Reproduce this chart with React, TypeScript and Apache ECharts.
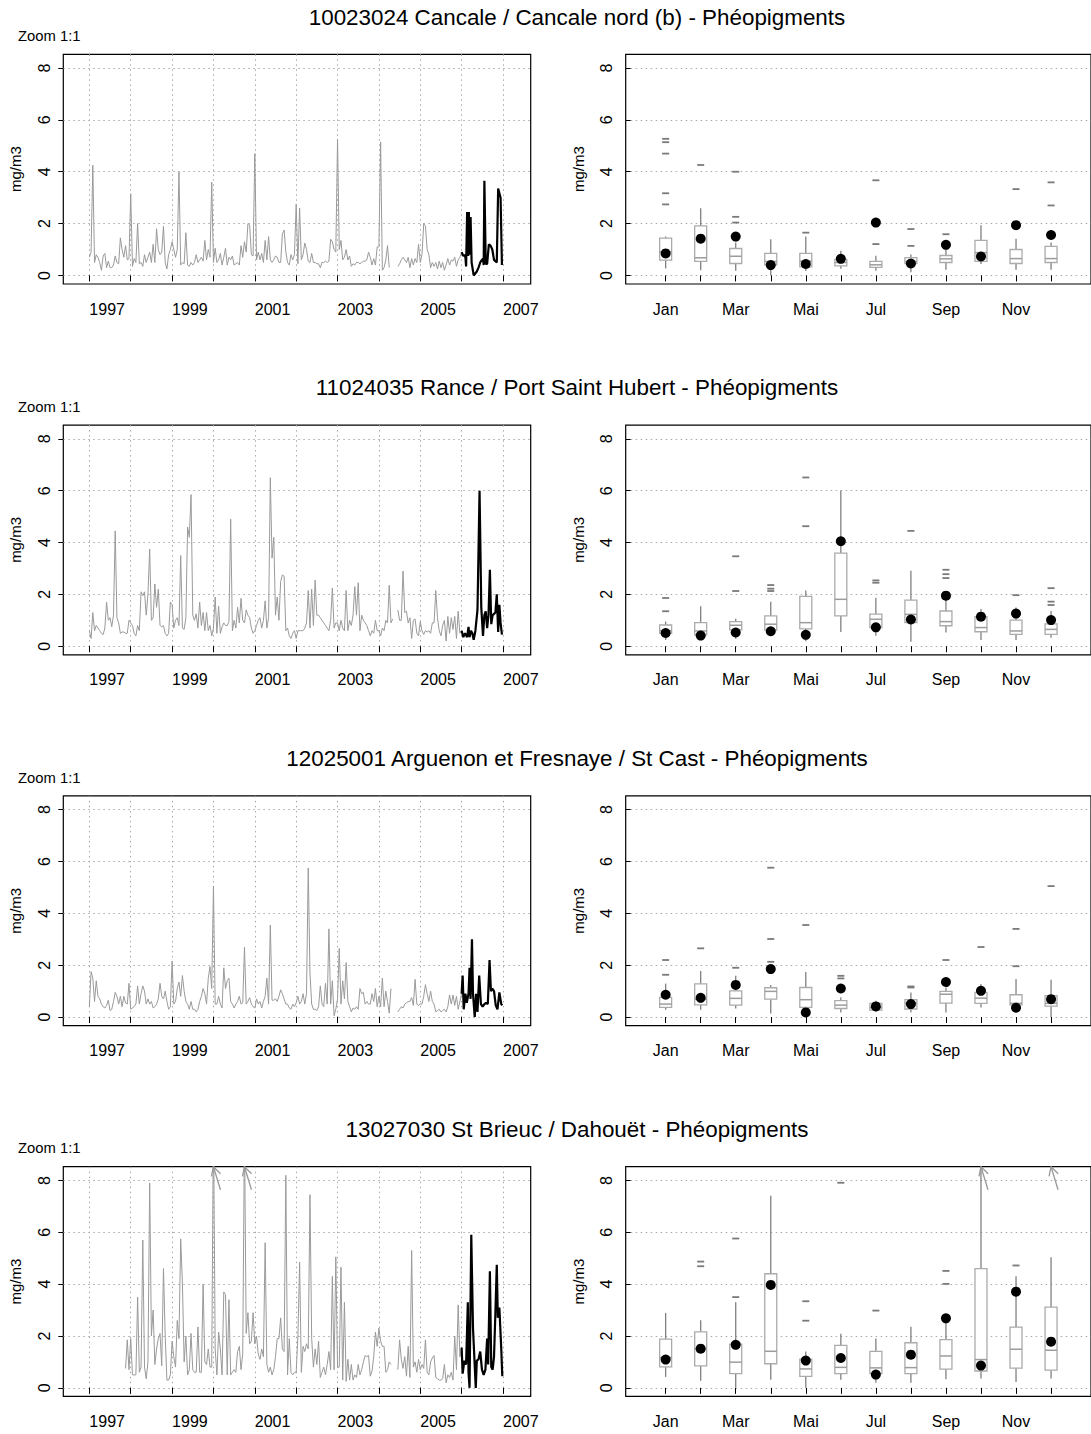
import React, { useEffect, useRef } from 'react';
import * as echarts from 'echarts';

const FONT = '"Liberation Sans", Arial, Helvetica, sans-serif';

// ---------- texts & ticks ----------
const TITLES = [
  '10023024 Cancale / Cancale nord (b) - Phéopigments',
  '11024035 Rance / Port Saint Hubert - Phéopigments',
  '12025001 Arguenon et Fresnaye / St Cast - Phéopigments',
  '13027030 St Brieuc / Dahouët - Phéopigments',
];
const ZOOM_LABEL = 'Zoom 1:1';
const UNIT = 'mg/m3';
const YEAR_TICKS = [1997, 1998, 1999, 2000, 2001, 2002, 2003, 2004, 2005, 2006, 2007];
const YEAR_LABELS = [1997, 1999, 2001, 2003, 2005, 2007];
const MONTH_TICKS = [1, 2, 3, 4, 5, 6, 7, 8, 9, 10, 11, 12];
const MONTH_LABEL_POS = [1, 3, 5, 7, 9, 11];
const MONTH_LABELS = ['Jan', 'Mar', 'Mai', 'Jul', 'Sep', 'Nov'];
const Y_TICKS = [0, 2, 4, 6, 8];
const Y_MIN = -0.33;
const Y_MAX = 8.53;
const HIST_START = 1997;
const SAMPLES_PER_YEAR = 24;
const CURRENT_YEAR = 2006;

// ---------- 10023024 Cancale ----------
// half-monthly history 1997..2005
const cancaleHistory = [
  0.7, 0.9, 4.25, 0.5, 0.8, 0.7, 0.5, 0.2, 0.75, 0.85, 0.3, 0.55, 0.3, 0.3, 0.4, 0.75, 0.5, 0.45, 1.45, 1.0, 0.7, 1.15, 0.6, 0.65,
  3.15, 0.35, 0.65, 0.5, 2.0, 0.45, 0.5, 0.35, 0.8, 0.5, 0.7, 0.9, 0.5, 1.2, 0.5, 1.8, 1.0, 0.8, 0.9, 1.9, 0.5, 0.25, 0.8, 1.0,
  1.3, 1.0, 0.7, 1.0, 4.0, 0.4, 0.5, 0.45, 1.65, 0.4, 0.35, 0.5, 0.4, 0.5, 0.8, 0.5, 0.6, 0.7, 0.55, 1.35, 0.6, 1.0, 0.7, 3.6,
  0.5, 1.05, 0.5, 0.6, 0.85, 0.4, 0.7, 1.05, 0.4, 0.7, 0.6, 0.75, 0.4, 0.45, 0.5, 0.4, 1.15, 0.7, 1.3, 0.9, 2.0, 1.95, 0.8, 0.75,
  4.7, 0.6, 0.9, 0.6, 0.85, 0.5, 1.35, 0.6, 1.5, 0.6, 0.5, 0.6, 0.75, 0.7, 0.5, 0.5, 1.6, 1.75, 0.9, 0.5, 0.4, 0.8, 0.6, 0.8,
  2.75, 0.45, 2.6, 0.6, 0.8, 1.25, 1.0, 0.55, 0.5, 0.85, 0.5, 0.5, 0.45, 0.45, 0.3, 0.5, 0.5, 0.55, 0.5, 0.55, 1.4, 1.3, 1.0, 0.9,
  5.25, 1.0, 1.35, 0.6, 0.7, 1.0, 0.6, 0.75, 0.35, 0.45, 0.4, 0.5, 0.5, 0.45, 0.5, 0.55, 0.55, 0.6, 0.9, 0.7, 0.4, 0.65, 0.4, 1.1,
  1.1, 5.15, 0.2, 0.3, 0.6, 1.15, 0.3, null, null, null, null, 0.35, 0.45, 0.6, 0.7, 0.6, 0.5, 0.7, 0.3, 0.65, 0.4, 0.65, 0.5, 1.2,
  0.5, 0.8, 2.0, 1.9, 1.0, 0.8, 0.3, 0.5, 0.35, 0.5, 0.25, 0.55, 0.3, 0.5, 0.2, 0.4, 0.65, 0.4, 0.6, 0.55, 0.7, 0.35, 0.6, 0.7,
];
// 2006: [month offset, value]
const cancaleCurrent = [
  [0, 0.9], [0.5, 0.75], [0.8, 0.8], [1.1, 0.7], [1.3, 0.35], [1.6, 2.45], [1.9, 0.75], [2.1, 2.45], [2.3, 0.8], [2.6, 2.25],
  [2.9, 0.5], [3.5, 0.0], [4.4, 0.15], [4.9, 0.3], [5.4, 0.5], [5.9, 0.6], [6.2, 0.65], [6.4, 0.4], [6.6, 3.65], [7.0, 0.45],
  [7.4, 0.45], [7.9, 1.2], [8.4, 1.15], [8.9, 1.0], [9.4, 0.6], [10.2, 0.5], [10.6, 3.35], [11.3, 3.0], [11.7, 0.4],
];
// [low whisker, Q1, median, Q3, high whisker] Jan..Dec
const cancaleBoxes = [
  [0.27, 0.59, 0.91, 1.44, 1.5], [0.2, 0.54, 0.68, 1.91, 2.59], [0.18, 0.46, 0.74, 1.04, 1.27], [0.0, 0.41, 0.54, 0.85, 1.4],
  [0.17, 0.33, 0.55, 0.85, 1.5], [0.26, 0.37, 0.5, 0.62, 0.95], [0.18, 0.31, 0.41, 0.54, 0.76], [0.12, 0.46, 0.54, 0.69, 0.81],
  [0.22, 0.5, 0.64, 0.77, 1.0], [0.44, 0.54, 0.88, 1.35, 1.94], [0.22, 0.46, 0.65, 1.0, 1.42], [0.22, 0.5, 0.65, 1.12, 1.27],
];
const cancaleOutliers = [
  [1, 5.27], [1, 5.14], [1, 4.7], [1, 3.17], [1, 2.74], [2, 4.26], [3, 4.0], [3, 2.26], [3, 2.04], [5, 1.65],
  [7, 3.67], [7, 1.21], [8, 1.79], [8, 1.14], [9, 1.59], [11, 3.33], [12, 3.59], [12, 2.7],
];
const cancaleMonthly = [0.85, 1.42, 1.5, 0.4, 0.44, 0.64, 2.04, 0.46, 1.18, 0.73, 1.94, 1.56];

// ---------- 11024035 Rance ----------
const ranceHistory = [
  0.6, 0.3, 1.3, 0.6, 0.8, 0.7, 0.6, 0.5, 0.45, 0.7, 1.7, 1.0, 1.1, 0.75, 1.2, 4.45, 1.1, 0.9, 0.5, 0.55, 0.55, 0.5, 0.5, 1.0,
  0.9, 0.8, 0.5, 0.4, 0.8, 0.6, 2.1, 1.95, 2.1, 1.2, 2.0, 3.75, 1.0, 1.1, 2.4, 1.5, 2.2, 0.8, 0.75, 0.8, 0.5, 0.4, 0.5, 1.7,
  1.6, 0.7, 1.0, 1.1, 0.8, 3.5, 0.7, 0.65, 1.1, 4.6, 4.2, 5.85, 1.2, 1.0, 1.25, 0.7, 1.7, 0.8, 1.3, 0.6, 1.3, 0.6, 0.8, 0.4,
  0.7, 1.9, 0.5, 1.55, 0.5, 0.75, 0.9, 0.8, 0.8, 0.95, 4.9, 0.6, 1.0, 0.7, 1.5, 0.9, 1.85, 1.0, 0.9, 1.4, 1.2, 1.1, 0.7, 0.5,
  0.6, 0.8, 1.0, 1.1, 0.7, 1.0, 1.75, 0.7, 1.1, 6.5, 3.4, 4.2, 1.2, 1.9, 1.0, 2.5, 2.75, 2.7, 0.6, 0.7, 0.4, 0.3, 0.5, 0.6,
  0.3, 0.6, 0.6, 0.6, 0.6, 0.7, 0.9, 2.15, 0.7, 2.2, 0.8, 2.55, 1.2, 1.2, 1.1, 1.0, 0.9, 0.8, 0.7, 0.6, 1.0, 2.25, 0.7, 0.9,
  0.9, 0.6, 1.0, 0.7, 0.6, 2.15, 0.6, 1.0, 0.8, 1.2, 2.3, 1.2, 2.45, 0.6, 1.2, 1.0, 0.9, 0.8, 0.6, 0.4, 0.6, 0.5, 1.0, 0.6,
  0.6, 0.4, 0.7, 0.6, 1.0, 0.9, 2.35, 0.9, 1.05, null, null, 1.4, 1.0, 1.0, 2.9, 1.3, 1.35, 0.9, 1.1, 0.3, 1.0, 1.05, 0.5, 0.4,
  0.95, 0.6, 0.45, 0.6, 0.55, 0.6, 0.5, 0.9, 0.9, 2.15, 1.1, 0.6, 0.4, 0.8, 1.0, 0.2, 1.15, 0.5, 1.1, 0.65, 1.15, 0.3, 1.35, 0.5,
];
const ranceCurrent = [
  [0, 0.6], [0.5, 0.35], [1.0, 0.5], [1.6, 0.35], [2.0, 0.75], [2.3, 0.35], [2.7, 0.6], [3.1, 0.5], [3.5, 0.25], [4.0, 0.6],
  [4.6, 1.4], [5.2, 6.0], [5.7, 1.5], [6.2, 0.4], [6.6, 1.2], [7.0, 1.35], [7.4, 0.7], [7.8, 1.2], [8.2, 2.95], [8.6, 0.85],
  [9.0, 1.2], [9.4, 1.25], [9.8, 1.3], [10.2, 2.0], [10.6, 0.55], [10.95, 1.6], [11.3, 0.9], [11.7, 0.45],
];
const ranceBoxes = [
  [0.24, 0.5, 0.6, 0.82, 0.95], [0.36, 0.44, 0.59, 0.91, 1.54], [0.29, 0.63, 0.81, 0.95, 1.06], [0.44, 0.62, 0.85, 1.17, 1.72],
  [0.19, 0.67, 0.91, 1.92, 2.15], [0.55, 1.17, 1.81, 3.59, 6.01], [0.4, 0.72, 1.04, 1.24, 1.87], [0.17, 0.91, 1.23, 1.78, 2.91],
  [0.53, 0.79, 0.95, 1.36, 2.13], [0.24, 0.56, 0.72, 1.14, 1.44], [0.24, 0.46, 0.59, 1.01, 1.49], [0.33, 0.46, 0.65, 0.86, 1.36],
];
const ranceOutliers = [
  [1, 1.86], [1, 1.35], [3, 3.47], [3, 2.13], [4, 2.36], [4, 2.22], [4, 2.13], [5, 6.51], [5, 4.63], [7, 2.54],
  [7, 2.45], [8, 4.45], [9, 2.95], [9, 2.78], [9, 2.63], [11, 1.97], [12, 2.24], [12, 1.72], [12, 1.59],
];
const ranceMonthly = [0.51, 0.41, 0.53, 0.58, 0.44, 4.05, 0.73, 1.03, 1.95, 1.14, 1.26, 1.01];

// ---------- 12025001 Arguenon et Fresnaye ----------
const arguenonHistory = [
  0.4, 1.75, 1.5, 0.6, 1.4, 0.8, 0.7, 0.5, 0.4, 0.35, 0.45, 0.65, 0.25, 0.3, 0.6, 0.95, 0.8, 0.5, 0.8, 0.4, 0.8, 0.55, 0.5, 1.3,
  0.3, 0.35, 0.4, 0.5, 1.2, 0.5, 0.9, 1.2, 1.0, 0.5, 0.7, 0.5, 0.6, 0.35, 0.4, 0.5, 0.7, 1.3, 0.8, 0.7, 1.0, 0.6, 0.3, 0.4,
  2.15, 0.5, 0.6, 1.1, 1.35, 0.8, 1.6, 1.0, 0.6, 0.5, 0.3, 0.6, 0.3, 0.3, 0.2, 0.3, 0.6, 0.8, 1.1, 0.9, 0.5, 1.5, 1.95, 1.1,
  5.05, 0.5, 0.5, 0.8, 0.5, 0.35, 1.9, 1.1, 1.4, 1.5, 0.6, 0.5, 0.35, 0.5, 0.6, 0.8, 0.5, 0.55, 2.7, 0.5, 0.6, 0.75, 0.5, 0.4,
  0.35, 0.7, 0.5, 0.6, 0.35, 0.6, 0.8, 1.5, 0.5, 3.55, 0.65, 0.65, 0.7, 0.6, 0.8, 1.05, 0.9, 0.7, 0.5, 0.5, 0.35, 0.3, 0.5, 0.4,
  0.55, 0.8, 0.5, 0.6, 0.9, 0.5, 0.9, 5.75, 1.7, 0.5, 0.3, 0.3, 0.25, 0.4, 1.2, 0.5, 0.4, 1.3, 0.5, 3.4, 0.5, 1.4, 0.05, 0.3,
  0.7, 2.65, 0.5, 1.4, 0.7, 2.1, 0.6, 0.4, 0.2, 0.35, 0.3, 0.4, 0.3, 1.1, 0.9, 0.95, 0.5, 0.6, 0.5, 0.5, 0.9, 0.6, 1.1, 0.4,
  0.8, 0.4, 1.5, 0.4, 1.0, 0.6, 0.15, 1.1, null, null, null, 0.2, 0.3, 0.4, 0.35, 0.5, 0.55, 0.6, 0.6, 0.75, 0.45, 1.45, 0.5, 0.45,
  0.5, 0.5, 0.8, 1.25, 0.9, 0.6, 1.0, 0.6, 0.5, 0.2, 0.25, 0.3, 0.2, 0.25, 0.3, 0.2, 0.4, 0.85, 0.5, 0.85, 0.45, 0.8, 0.3, 0.6,
];
const arguenonCurrent = [
  [0, 0.9], [0.3, 1.6], [0.6, 0.3], [1.1, 0.9], [1.5, 0.55], [2.0, 0.9], [2.3, 1.9], [2.6, 0.7], [3.0, 3.0], [3.3, 0.9],
  [3.8, 0.0], [4.2, 0.9], [4.6, 0.2], [5.1, 1.6], [5.6, 0.5], [6.1, 0.4], [6.6, 0.5], [7.1, 0.55], [7.6, 0.5], [8.1, 2.2],
  [8.5, 1.0], [8.9, 1.1], [9.4, 1.0], [9.9, 0.45], [10.4, 0.3], [10.95, 0.95], [11.5, 0.5], [11.8, 0.45],
];
const arguenonBoxes = [
  [0.28, 0.37, 0.5, 0.76, 1.29], [0.28, 0.47, 0.69, 1.28, 1.78], [0.33, 0.46, 0.72, 1.01, 1.59], [0.14, 0.69, 0.99, 1.13, 1.24],
  [0.15, 0.37, 0.67, 1.14, 1.74], [0.18, 0.33, 0.46, 0.63, 0.76], [0.21, 0.27, 0.37, 0.53, 0.63], [0.18, 0.31, 0.54, 0.67, 0.95],
  [0.18, 0.54, 0.88, 0.99, 1.14], [0.37, 0.53, 0.73, 0.95, 1.27], [0.24, 0.47, 0.53, 0.86, 1.47], [0.0, 0.42, 0.53, 0.83, 1.44],
];
const arguenonOutliers = [
  [1, 2.2], [1, 1.63], [2, 2.65], [3, 1.9], [4, 5.76], [4, 3.01], [4, 2.13], [5, 3.55], [6, 1.59], [6, 1.49],
  [8, 1.18], [8, 1.14], [9, 2.2], [10, 2.7], [11, 3.4], [11, 1.96], [12, 5.05],
];
const arguenonMonthly = [0.86, 0.74, 1.24, 1.85, 0.18, 1.1, 0.41, 0.5, 1.35, 1.01, 0.36, 0.69];

// ---------- 13027030 St Brieuc / Dahouët ----------
const dahouetHistory = [
  null, null, null, null, null, null, null, null, null, null, null, null, null, null, null, null, null, null, null, null, null, 0.75, 1.85, 0.7,
  1.9, 0.5, 0.5, 0.5, 3.5, 0.6, 0.8, 5.7, 0.8, 0.35, 1.0, 7.9, 2.0, 3.0, 0.9, 1.5, 1.9, 2.1, 0.85, 4.6, 2.0, 0.3, 0.3, 0.5,
  1.8, 1.2, 0.8, 2.6, 1.9, 5.75, 4.0, 1.0, 2.0, 0.5, 0.7, 2.1, 0.7, 0.6, 0.6, 2.35, 0.6, 0.6, 4.0, 1.0, 0.9, 1.5, 0.8, 0.8,
  10.5, 1.5, 0.5, 2.15, 1.5, 0.5, 3.7, 3.6, 0.5, 3.4, 0.5, 0.6, 0.7, 0.6, 1.4, 1.6, 0.7, 1.3, 10.0, 2.1, 2.9, 1.7, 1.8, 2.9,
  1.7, 2.0, 1.3, 1.1, 1.5, 1.2, 5.6, 0.9, 0.6, 0.8, 0.5, 0.7, 1.2, 1.9, 1.9, 2.7, 1.5, 1.4, 8.2, 0.5, 1.9, 0.6, 0.5, 0.6,
  0.6, 2.0, 4.85, 0.6, 1.6, 1.4, 1.7, 1.5, 7.45, 1.9, 0.8, 1.5, 0.9, 1.8, 0.4, 0.6, 0.8, 0.5, 0.9, 1.4, 0.7, 4.3, 0.7, 5.05,
  0.8, 0.8, 4.65, 0.3, 3.3, 0.25, 1.1, 0.3, 0.9, 0.3, 0.5, 0.4, 0.9, 0.5, 0.7, 1.0, 1.25, 1.2, 1.25, 0.45, 0.65, 1.2, 2.15, 1.6,
  2.3, 1.8, 1.6, 1.6, 0.6, 0.7, 1.0, 0.9, null, null, null, 0.7, 1.85, 1.1, 0.75, 1.2, 0.45, 1.6, 0.4, 5.3, 0.8, 1.0, 0.6, 1.1,
  0.7, 0.9, 0.75, 1.85, 0.6, 0.5, 1.0, 1.15, 1.25, 0.4, 0.35, 0.3, 0.3, 0.35, 0.9, 0.2, 0.5, 0.4, 0.6, 0.3, 2.0, 0.7, 3.2, 1.2,
];
const dahouetCurrent = [
  [0, 1.55], [0.3, 0.55], [0.8, 1.05], [1.3, 0.9], [1.8, 3.3], [2.0, 0.6], [2.3, 0.0], [2.8, 5.9], [3.3, 2.3], [4.1, 0.0],
  [4.4, 1.05], [4.9, 1.1], [5.4, 1.4], [5.9, 0.7], [6.4, 0.5], [6.9, 0.7], [7.4, 1.9], [7.7, 0.9], [8.2, 4.5], [8.6, 0.8],
  [9.0, 0.7], [9.4, 1.2], [9.8, 2.9], [10.2, 4.75], [10.5, 2.7], [10.95, 3.1], [11.5, 1.5], [11.8, 0.45],
];
const dahouetBoxes = [
  [0.42, 0.81, 1.17, 1.88, 2.89], [0.27, 0.85, 1.51, 2.16, 2.61], [0.0, 0.55, 0.99, 1.69, 3.3], [0.31, 0.93, 1.41, 4.4, 7.41],
  [0.0, 0.44, 0.73, 1.11, 1.4], [0.31, 0.55, 0.79, 1.64, 2.09], [0.2, 0.55, 0.77, 1.41, 1.9], [0.2, 0.55, 0.78, 1.74, 2.36],
  [0.33, 0.72, 1.23, 1.86, 2.56], [0.36, 0.65, 1.09, 4.6, 9.4], [0.23, 0.76, 1.49, 2.34, 4.3], [0.36, 0.68, 1.45, 3.11, 5.04],
];
const dahouetOutliers = [
  [2, 4.87], [2, 4.69], [3, 5.76], [3, 3.5], [5, 3.34], [5, 2.59], [6, 7.91], [7, 2.98], [9, 4.51], [9, 4.01],
  [11, 4.72], [12, 9.6],
];
const dahouetMonthly = [1.09, 1.51, 1.66, 3.97, 1.05, 1.15, 0.51, 1.28, 2.68, 0.86, 3.71, 1.78];

const STATIONS = [
  { history: cancaleHistory, current: cancaleCurrent, boxes: cancaleBoxes, outliers: cancaleOutliers, monthly: cancaleMonthly },
  { history: ranceHistory, current: ranceCurrent, boxes: ranceBoxes, outliers: ranceOutliers, monthly: ranceMonthly },
  { history: arguenonHistory, current: arguenonCurrent, boxes: arguenonBoxes, outliers: arguenonOutliers, monthly: arguenonMonthly },
  { history: dahouetHistory, current: dahouetCurrent, boxes: dahouetBoxes, outliers: dahouetOutliers, monthly: dahouetMonthly },
];

// ---------- layout / style ----------
const ROW_PITCH = 370.8;
const GRID_TOP = 54.3;
const GRID_H = 229.7;
const LEFT_X = 63.3;
const LEFT_W = 467.4;
const RIGHT_X = 625.7;
const RIGHT_W = 466.8;
const GRAY_LINE = '#9a9a9a';
const BOX_BORDER = '#ababab';
const WHISKER = '#808080';
const DOT_GRID = { color: '#a8a8a8', type: [1.5, 3.5] as any, width: 1 };

function arrowRender(params: any, api: any) {
  const p = api.coord([api.value(0), Y_MAX]);
  const tail = [p[0] + 7, p[1] + 23];
  const ang = Math.atan2(p[1] - tail[1], p[0] - tail[0]);
  const L = 10;
  const s = 0.5;
  const b1 = [p[0] - L * Math.cos(ang - s), p[1] - L * Math.sin(ang - s)];
  const b2 = [p[0] - L * Math.cos(ang + s), p[1] - L * Math.sin(ang + s)];
  const st = { stroke: '#999999', lineWidth: 1.3, fill: null };
  return {
    type: 'group',
    children: [
      { type: 'polyline', shape: { points: [tail, p] }, style: st },
      { type: 'polyline', shape: { points: [b1, p, b2] }, style: st },
    ],
  };
}

function boxRender(params: any, api: any) {
  const m = api.value(0);
  const lo = api.value(1);
  const q1 = api.value(2);
  const med = api.value(3);
  const q3 = api.value(4);
  const hi = Math.min(api.value(5), Y_MAX);
  const pLo = api.coord([m, lo]);
  const pQ1 = api.coord([m, q1]);
  const pMed = api.coord([m, med]);
  const pQ3 = api.coord([m, q3]);
  const pHi = api.coord([m, hi]);
  const x = pQ1[0];
  const hw = 6;
  return {
    type: 'group',
    children: [
      { type: 'line', shape: { x1: x, y1: pLo[1], x2: x, y2: pQ1[1] }, style: { stroke: WHISKER, lineWidth: 1.3 } },
      { type: 'line', shape: { x1: x, y1: pQ3[1], x2: x, y2: pHi[1] }, style: { stroke: WHISKER, lineWidth: 1.3 } },
      {
        type: 'rect',
        shape: { x: x - hw, y: pQ3[1], width: 2 * hw, height: pQ1[1] - pQ3[1] },
        style: { fill: '#ffffff', stroke: BOX_BORDER, lineWidth: 1.3 },
      },
      { type: 'line', shape: { x1: x - hw, y1: pMed[1], x2: x + hw, y2: pMed[1] }, style: { stroke: '#9c9c9c', lineWidth: 1.5 } },
    ],
  };
}

function buildOption() {
  const grid: any[] = [];
  const xAxis: any[] = [];
  const yAxis: any[] = [];
  const series: any[] = [];
  const graphic: any[] = [];
  const labelStyle = { fontSize: 16, fontFamily: FONT, color: '#000' };

  STATIONS.forEach((st, r) => {
    const off = r * ROW_PITCH;
    const gl = r * 2;
    const gr = gl + 1;
    const gridBase = { top: GRID_TOP + off, height: GRID_H, show: true, borderColor: '#000', borderWidth: 1.2, backgroundColor: 'transparent' };
    grid.push({ ...gridBase, left: LEFT_X, width: LEFT_W });
    grid.push({ ...gridBase, left: RIGHT_X, width: RIGHT_W });

    xAxis.push({
      type: 'value', gridIndex: gl, min: 1996.37, max: 2007.67,
      axisLine: { show: false },
      axisTick: { show: true, customValues: YEAR_TICKS, length: 6, inside: false, lineStyle: { color: '#000', width: 1 } },
      axisLabel: { ...labelStyle, customValues: YEAR_LABELS, align: 'left', margin: 17, formatter: (v: number) => String(Math.round(v)) },
      splitLine: { show: true, lineStyle: DOT_GRID },
    });
    xAxis.push({
      type: 'value', gridIndex: gr, min: -0.14, max: 13.14,
      axisLine: { show: false },
      axisTick: { show: true, customValues: MONTH_TICKS, length: 6, lineStyle: { color: '#000', width: 1 } },
      axisLabel: {
        ...labelStyle, customValues: MONTH_LABEL_POS, margin: 17,
        formatter: (v: number) => MONTH_LABELS[MONTH_LABEL_POS.indexOf(Math.round(v))] || '',
      },
      splitLine: { show: false },
    });
    [gl, gr].forEach((g) => {
      yAxis.push({
        type: 'value', gridIndex: g, min: Y_MIN, max: Y_MAX,
        axisLine: { show: false },
        axisTick: { show: true, customValues: Y_TICKS, length: 5, lineStyle: { color: '#000', width: 1 } },
        axisLabel: { ...labelStyle, customValues: Y_TICKS, rotate: 90, margin: 11, formatter: (v: number) => String(Math.round(v)) },
        splitLine: { show: true, lineStyle: DOT_GRID },
        name: UNIT, nameLocation: 'middle', nameRotate: 90, nameGap: 40,
        nameTextStyle: { fontSize: 15, fontFamily: FONT, color: '#000' },
      });
    });

    // titles
    graphic.push({
      type: 'text', x: 577, y: 17 + off, silent: true,
      style: { text: TITLES[r], fontSize: 22.4, fontFamily: FONT, fill: '#000', align: 'center', verticalAlign: 'middle', textAlign: 'center', textVerticalAlign: 'middle' },
    });
    graphic.push({
      type: 'text', x: 18, y: 36 + off, silent: true,
      style: { text: ZOOM_LABEL, fontSize: 14.8, fontFamily: FONT, fill: '#000', align: 'left', verticalAlign: 'middle', textAlign: 'left', textVerticalAlign: 'middle' },
    });

    // time series
    const hist = st.history.map((v, k) => [HIST_START + k / SAMPLES_PER_YEAR, v === null ? '-' : v]);
    const cur = st.current.map(([m, v]) => [CURRENT_YEAR + m / 12, v]);
    series.push({
      type: 'line', xAxisIndex: gl, yAxisIndex: gl, data: [...hist, cur[0]],
      showSymbol: false, symbol: 'none', connectNulls: false, silent: true,
      lineStyle: { color: GRAY_LINE, width: 1, opacity: 1 }, z: 2,
    });
    series.push({
      type: 'line', xAxisIndex: gl, yAxisIndex: gl, data: cur,
      showSymbol: false, symbol: 'none', silent: true,
      lineStyle: { color: '#000', width: 2.2, opacity: 1 }, z: 3,
    });
    const tsArrows = st.history
      .map((v, k) => [HIST_START + k / SAMPLES_PER_YEAR, v])
      .filter((p) => p[1] !== null && (p[1] as number) > Y_MAX)
      .map((p) => [p[0], Y_MAX]);
    if (tsArrows.length) {
      series.push({ type: 'custom', xAxisIndex: gl, yAxisIndex: gl, data: tsArrows, renderItem: arrowRender, encode: { x: 0, y: 1 }, silent: true, z: 4 });
    }

    // boxplots
    const boxData = st.boxes.map((b, i) => [MONTH_TICKS[i], ...b]);
    series.push({
      type: 'custom', xAxisIndex: gr, yAxisIndex: gr, data: boxData, renderItem: boxRender,
      encode: { x: 0, y: [1, 2, 3, 4, 5] }, silent: true, z: 2,
    });
    series.push({
      type: 'scatter', xAxisIndex: gr, yAxisIndex: gr, silent: true, z: 3,
      data: st.outliers.filter((o) => o[1] <= Y_MAX),
      symbol: 'rect', symbolSize: [7, 1.8], itemStyle: { color: '#7a7a7a', opacity: 1 },
    });
    series.push({
      type: 'scatter', xAxisIndex: gr, yAxisIndex: gr, silent: true, z: 5,
      data: st.monthly.map((v, i) => [MONTH_TICKS[i], v]),
      symbol: 'circle', symbolSize: 10, itemStyle: { color: '#000', opacity: 1 },
    });
    const boxArrows = [
      ...st.boxes.map((b, i) => [MONTH_TICKS[i], b[4]]).filter((p) => p[1] > Y_MAX),
      ...st.outliers.filter((o) => o[1] > Y_MAX),
    ].map((p) => [p[0], Y_MAX]);
    if (boxArrows.length) {
      series.push({ type: 'custom', xAxisIndex: gr, yAxisIndex: gr, data: boxArrows, renderItem: arrowRender, encode: { x: 0, y: 1 }, silent: true, z: 4 });
    }
  });

  return {
    animation: false,
    backgroundColor: '#ffffff',
    textStyle: { fontFamily: FONT },
    grid, xAxis, yAxis, series, graphic,
  };
}

export default function App() {
  const ref = useRef<HTMLDivElement>(null);
  useEffect(() => {
    if (!ref.current) return;
    const chart = echarts.init(ref.current, undefined, { renderer: 'svg' });
    chart.setOption(buildOption() as any);
    return () => chart.dispose();
  }, []);
  return (
    <div
      ref={ref}
      style={{ position: 'absolute', left: 0, top: 0, width: 1091, height: 1434, background: '#fff' }}
    />
  );
}
